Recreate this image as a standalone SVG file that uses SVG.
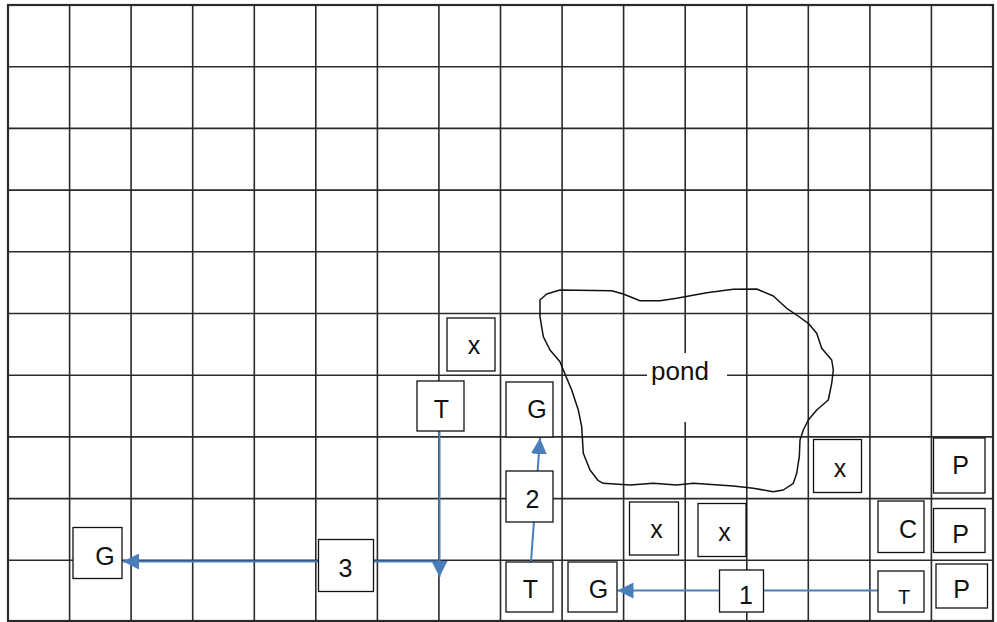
<svg xmlns="http://www.w3.org/2000/svg" width="997" height="622" viewBox="0 0 997 622">
<style>
.grid{fill:none;stroke:#2a2a2a;stroke-width:1.6}
.border{fill:none;stroke:#2a2a2a;stroke-width:2.2}
.box{fill:#fff;stroke:#111;stroke-width:1.3}
.lbl{font-family:"Liberation Sans",Arial,sans-serif;font-size:25px;fill:#111;text-anchor:middle}
.conn{fill:none;stroke:#4a7ebb;stroke-width:2}
.pond{fill:none;stroke:#111;stroke-width:1.5;stroke-linejoin:round}
</style>
<defs>
<marker id="ah" viewBox="0 0 16 16" refX="16" refY="8" markerWidth="16" markerHeight="16" markerUnits="userSpaceOnUse" orient="auto">
<path d="M0,0 L16,8 L0,16 z" fill="#4a7ebb"/>
</marker>
</defs>
<rect width="997" height="622" fill="#fff"/>
<g id="grid">
<path class="grid" d="M69.6,5V621 M131.1,5V621 M192.7,5V621 M254.3,5V621 M315.8,5V621 M377.4,5V621 M438.9,5V621 M500.5,5V621 M562.1,5V621 M623.6,5V621 M685.2,5V621 M746.8,5V621 M808.3,5V621 M869.9,5V621 M931.4,5V621 M8,66.7H993 M8,128.4H993 M8,190.1H993 M8,251.8H993 M8,313.5H993 M8,375.2H993 M8,436.9H993 M8,498.6H993 M8,560.3H993"/>
<rect class="border" x="8" y="5" width="985" height="616"/>
</g>
<g id="pond">
<path class="pond" d="M540,300 L546.7,294 L560,290 L611.7,290.7 L623.3,294 L640,300.7 L660,300.7 L676.7,298.3 L706.7,292.7 L733.3,289.3 L756.7,289 L773.3,296 L786.7,308.3 L796.7,315 L808.3,323.3 L816.7,333.3 L821.7,348.3 L831.7,360 L833.3,370 L831.7,383.3 L828.3,400 L816.7,410 L808.3,420 L803.3,430 L800,440 L799.3,456.7 L796.7,473.3 L793.3,483.3 L783.3,490 L773.3,491.7 L753.3,488.3 L733.3,486 L693.3,483.3 L676.7,485 L653.3,483.3 L630,485 L603.3,483.3 L598.3,480.7 L590,470 L583.3,453.3 L581.7,426.7 L578.3,410 L571.7,390 L563.3,370 L560,361.7 L550,350 L543.3,336.7 L540,316.7 Z"/>
<rect x="647" y="353" width="80" height="69" fill="#fff"/>
<text class="lbl" x="680" y="380" style="font-size:26px">pond</text>
</g>
<g id="connectors">
<line class="conn" x1="439.5" y1="431" x2="439.5" y2="577" marker-end="url(#ah)"/>
<line class="conn" x1="439" y1="561.5" x2="123" y2="561.5" marker-end="url(#ah)"/>
<line class="conn" x1="531" y1="562" x2="540" y2="438" marker-end="url(#ah)"/>
<line class="conn" x1="878" y1="590.5" x2="617.5" y2="590.5" marker-end="url(#ah)"/>
</g>
<g id="node-x1"><rect class="box" x="447" y="318" width="48" height="53"/><text class="lbl" x="474" y="354">x</text></g>
<g id="node-T1"><rect class="box" x="417" y="381" width="47" height="50"/><text class="lbl" x="441.5" y="418">T</text></g>
<g id="node-G1"><rect class="box" x="506" y="382" width="47" height="55"/><text class="lbl" x="537" y="418">G</text></g>
<g id="node-2"><rect class="box" x="506" y="471" width="47" height="51"/><text class="lbl" x="532.5" y="508">2</text></g>
<g id="node-T2"><rect class="box" x="506" y="562" width="47" height="50"/><text class="lbl" x="530.5" y="598">T</text></g>
<g id="node-G2"><rect class="box" x="568" y="562" width="49" height="50"/><text class="lbl" x="598.5" y="598">G</text></g>
<g id="node-x2"><rect class="box" x="629.5" y="502" width="49" height="53"/><text class="lbl" x="656.5" y="538">x</text></g>
<g id="node-x3"><rect class="box" x="698" y="503.5" width="48" height="53"/><text class="lbl" x="724.5" y="540.5">x</text></g>
<g id="node-1"><rect class="box" x="719.5" y="570" width="44" height="42"/><text class="lbl" x="746" y="604">1</text></g>
<g id="node-x4"><rect class="box" x="813.5" y="439.5" width="48" height="53"/><text class="lbl" x="840" y="476.5">x</text></g>
<g id="node-P1"><rect class="box" x="933.5" y="438" width="51.5" height="55"/><text class="lbl" x="960.5" y="474">P</text></g>
<g id="node-C"><rect class="box" x="878" y="501" width="46" height="51.5"/><text class="lbl" x="908" y="538">C</text></g>
<g id="node-P2"><rect class="box" x="933.5" y="508.5" width="51.5" height="44"/><text class="lbl" x="960.5" y="543">P</text></g>
<g id="node-T3"><rect class="box" x="878" y="571" width="46" height="41"/><text class="lbl" x="904" y="604" style="font-size:20px">T</text></g>
<g id="node-P3"><rect class="box" x="936" y="564" width="51.5" height="44"/><text class="lbl" x="961.5" y="598">P</text></g>
<g id="node-3"><rect class="box" x="318.5" y="539.5" width="55" height="52"/><text class="lbl" x="345.5" y="576.5">3</text></g>
<g id="node-G3"><rect class="box" x="73" y="527.5" width="49" height="51"/><text class="lbl" x="105" y="565">G</text></g>
</svg>
